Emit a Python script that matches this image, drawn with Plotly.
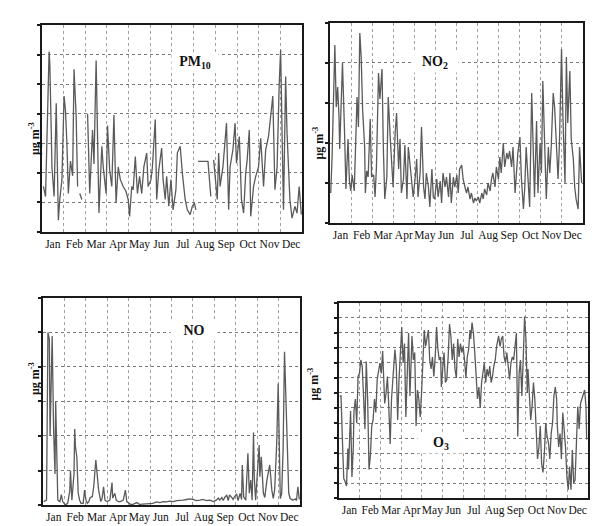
import plotly.graph_objects as go

months = ["Jan", "Feb", "Mar", "Apr", "May", "Jun", "Jul", "Aug", "Sep", "Oct", "Nov", "Dec"]

# PM10 (daily, approximate read-off; None = missing data)
pm10_days = [3, 6, 11, 12, 14, 15, 18, 21, 24, 26, 29, 32, 34, 36, 38, 41, 44, 46, 49, 51, 52, 54, 57, 60,
             65, 66, 68, 72, 74, 77, 79, 81, 85, 87, 91, 93, 96, 99, 102, 105, 108, 111, 115, 119, 122, 124,
             127, 129, 132, 135, 138, 141, 144, 148, 150, 154, 156, 160, 162, 165, 169, 171, 174, 176, 179,
             182, 185, 189, 191, 195, 198, 202, 205, 209, 212, 215, 217, 219, 220, 234, 238, 240,
             242, 245, 247, 249, 251, 255, 258, 260, 263, 265, 269, 272, 274, 278, 281, 284, 287, 289, 292,
             294, 298, 301, 305, 308, 312, 315, 319, 322, 325, 328, 331, 334, 336, 338, 340, 343, 345, 349,
             352, 356, 359, 362, 365]
pm10_vals = [15.4, 12, 61, 57, 34.5, 22, 12, 43.5, 4, 11, 17.7, 46, 41, 30, 13, 24, 19, 55, 39, 15.4, None, 13, 11, None,
             40, 33, 13, 34.5, 23, 58, 35.7, 6.4, 29, 22, 13, 36, 21, 15.4, 39.6, 9.8, 22, 17.7, 15.4, 13.7, 11, 5.3,
             15.4, 14.3, 25.5, 13, 18.8, 13, 22, 26.7, 15.4, 17.7, 22, 38, 11, 21, 28.4, 17.7, 11, 18.8, 8.7,
             17.7, 7.5, 14.3, 26.7, 29, 20, 11, 7.5, 5.9, 8.7, 9.8, 7.5, None, 23.9, 23.9, 12, None,
             24.4, 17.7, 11, 26.7, 15.4, 22, 31, 36.8, 7.5, 22, 27.8, 36.8, 23.3, 32.3, 11, 6.4, 20, 24.4, 34.5,
             5.3, 15.4, 18.8, 22, 31.7, 15.4, 27.8, 32.3, 40, 46, 14.3, 22, 50, 61.6, 33.4, 7.5, 52.6, 33.4, 11,
             4.7, 8.7, 6.4, 15.4, 5.9]

# NO2
no2_days = [2, 4, 8, 10, 12, 14, 15, 17, 19, 22, 24, 27, 29, 31, 33, 36, 38, 40, 42, 44, 46, 48, 51, 52,
            54, 56, 59, 61, 64, 66, 68, 71, 73, 76, 78, 80, 83, 85, 88, 90, 92, 95, 97, 100,
            102, 104, 107, 109, 112, 114, 116, 119, 121, 124, 126, 128, 131, 133, 136, 138, 140, 143, 145, 148,
            150, 152, 155, 157, 160, 162, 164, 167, 169, 172, 174, 176, 179, 181, 184, 186, 188, 191, 193, 196,
            198, 200, 203, 205, 208, 210, 212, 215, 217, 220, 222, 224, 227, 229, 232, 234, 236, 239, 241, 244,
            246, 248, 251, 253, 256, 258, 260, 263, 265, 268, 270, 272, 275, 277, 280, 282, 284, 287, 289, 292,
            294, 296, 299, 301, 304, 306, 308, 311, 313, 316, 318, 320, 323, 325, 328, 330, 332, 335, 337, 340,
            342, 344, 347, 349, 352, 354, 356, 359, 361, 364]
no2_vals = [15, 33, 89, 58, 68, 53, 37, 55, 80, 45, 17, 42, 21, 16, 24, 16, 45, 63, 48, 95, 83, 57, 38, 15,
            26, 23, 52, 23, 24, 13, 28, 75, 62, 77, 37, 12, 23, 63, 42, 32, 18, 45, 55, 27,
            42, 15, 22, 39, 12, 38, 30, 20, 13, 23, 32, 13, 25, 48, 18, 12, 25, 18, 8, 27,
            13, 12, 22, 13, 21, 10, 25, 18, 23, 13, 25, 10, 23, 18, 24, 15, 27, 29, 22, 17.5,
            15, 18, 12, 15, 10, 12.5, 11, 13, 10, 15, 12, 17, 14, 20, 16, 22, 25, 18, 28, 22,
            33, 25, 40, 28, 35, 32, 36, 28, 38, 15, 25, 35, 43, 23, 7, 18, 38, 23, 8, 65,
            33, 13, 51, 15, 40, 25, 71, 28, 12, 38, 25, 37, 65, 58, 32, 22, 40, 87, 53, 20,
            83, 50, 76, 42, 32, 18, 12, 7, 38, 20]

# NO
no_days = [2, 6, 8, 10, 11, 13, 14, 16, 18, 19, 21, 22, 25, 27, 29, 32, 34, 36, 39, 40,
           42, 45, 46, 47, 49, 51, 53, 55, 58, 60, 62, 64, 66, 68, 71, 73, 76, 78, 80, 83,
           85, 87, 89, 92, 96, 99, 100, 103, 105, 108, 111, 115, 118, 120, 125, 129, 134, 138, 143, 148,
           153, 157, 162, 167, 172, 176, 181, 186, 191, 195, 200, 205, 210, 214, 219, 224, 228, 233, 238, 243,
           247, 250, 252, 255, 257, 259, 262, 264, 266, 269, 271, 273, 276, 278, 281, 283, 284, 286, 289, 292,
           294, 296, 298, 300, 301, 303, 306, 308, 309, 311, 314, 316, 319, 321, 323, 326, 328, 330, 333, 335,
           337, 338, 340, 342, 344, 346, 348, 350, 352, 354, 356, 359, 361, 363, 365]
no_vals = [1, 1.4, 50, 48, 20, 48, 49, 22, 9, 30, 13, 1.4, 1, 3, 1, 0.2, 0.2, 0.5, 4, 10,
           1.4, 9, 22, 17, 14, 3.4, 1.4, 0.5, 0.5, 4.3, 1.4, 0.5, 1, 2.2, 2.4, 5.3, 13, 8, 4.3, 1,
           2, 5.3, 1.4, 1, 1.4, 6.5, 2, 3.4, 1.4, 1, 1, 1.4, 4.3, 1, 0.2, 0.2, 0.7, 0.2, 0.3, 0.2,
           0.4, 0.5, 0.9, 0.7, 1, 0.9, 1.1, 1, 1.3, 1.3, 1.4, 1.6, 1.8, 1.6, 1.3, 1.4, 1.6, 1.3, 1.4, 1,
           1.4, 2, 1.4, 2.2, 1.3, 2.2, 2.8, 1.3, 2.9, 2.2, 1.6, 2.4, 3.2, 1.3, 3.4, 1.6, 11.6, 2.4, 1.4, 15,
           3.4, 7.2, 1.4, 21, 8.2, 1.4, 12.5, 17.4, 8.2, 14, 3.4, 2.2, 7.2, 10, 11.6, 4.3, 1.9, 4.3, 18.3, 35.2,
           17, 1.9, 3.4, 16, 44.4, 30.4, 13, 3.4, 1.9, 1.6, 1.4, 1.8, 1.3, 5.3, 1.6]

# O3
o3_days = [2, 4, 6, 8, 10, 12, 14, 15, 18, 20, 22, 23, 25, 27, 29, 31, 33, 35, 37, 39,
           41, 43, 45, 47, 49, 51, 53, 55, 57, 59, 61, 63, 65, 66, 68, 70, 72, 74, 76, 78,
           80, 83, 85, 87, 89, 91, 93, 95, 97, 99, 101, 103, 105, 107, 108, 110, 112, 114, 116, 118,
           120, 122, 124, 126, 128, 130, 132, 134, 136, 138, 140, 142, 144, 146, 148, 150, 151, 153, 155, 157,
           159, 161, 163, 165, 167, 169, 171, 173, 175, 177, 179, 181, 183, 185, 187, 189, 191, 193, 194, 196,
           198, 200, 202, 204, 206, 208, 210, 212, 214, 216, 218, 220, 222, 224, 226, 228, 230, 232, 234, 235,
           237, 239, 241, 243, 245, 247, 249, 251, 253, 255, 257, 259, 261, 263, 265, 267, 269, 271, 273, 275,
           277, 278, 280, 282, 284, 286, 288, 290, 292, 294, 296, 298, 300, 302, 304, 306, 308, 310, 312, 314,
           316, 318, 320, 321, 323, 325, 327, 329, 331, 333, 335, 337, 339, 341, 343, 345, 347, 349, 351, 353,
           355, 357, 359, 361, 363, 364]
o3_vals = [68, 68, 39, 13, 11, 8, 33, 19, 58, 14, 34, 58, 66, 50, 81, 83, 92, 88, 68, 46,
           91, 66, 19, 28, 48, 52, 66, 57, 79, 86, 90, 83, 98, 86, 63, 70, 81, 61, 36, 66,
           77, 99, 88, 52, 79, 99, 114, 90, 103, 54, 86, 110, 68, 101, 108, 92, 97, 48, 72, 66,
           54, 70, 92, 112, 101, 106, 112, 92, 86, 94, 81, 94, 114, 99, 92, 94, 74, 86, 97, 77,
           79, 94, 116, 108, 92, 103, 86, 80, 106, 94, 103, 97, 101, 92, 80, 94, 99, 112, 106, 117,
           110, 97, 83, 66, 74, 60, 77, 83, 90, 77, 86, 81, 88, 77, 81, 88, 92, 101, 106, 108,
           101, 106, 108, 94, 90, 97, 88, 79, 90, 94, 92, 101, 110, 41, 83, 92, 68, 92, 121, 106,
           70, 86, 70, 52, 61, 77, 66, 48, 26, 34, 48, 23, 17, 30, 50, 41, 37, 26, 43, 50,
           68, 74, 66, 48, 34, 43, 26, 57, 48, 34, 14.4, 5.6, 21, 5.6, 32, 10, 12, 41, 61, 46,
           63, 66, 70, 72, 61, 39]

panels = [
    dict(days=pm10_days, vals=pm10_vals, ymax=70, dtick=10, title="PM<sub>10</sub>",
         xd=[0.0687, 0.4943], yd=[0.5589, 0.9525], tx=171, ty=52, ytx=25, yty=120),
    dict(days=no2_days, vals=no2_vals, ymax=100, dtick=20, title="NO<sub>2</sub>",
         xd=[0.5401, 0.9542], yd=[0.576, 0.9563], tx=459, ty=52, ytx=318, yty=125),
    dict(days=no_days, vals=no_vals, ymax=60, dtick=10, title="NO",
         xd=[0.0704, 0.491], yd=[0.0399, 0.4335], tx=170, ty=330, ytx=25, yty=397),
    dict(days=o3_days, vals=o3_vals, ymax=130, dtick=10, title="O<sub>3</sub>",
         xd=[0.5548, 0.9624], yd=[0.0532, 0.424], tx=465, ty=454, ytx=313, yty=403),
]

W, H = 611, 526
serif = "Liberation Serif"
X0, X1 = 1, 366
step = (X1 - X0) / 12
month_bounds = [X0 + k * step for k in range(1, 12)]
month_centres = [X0 + (k + 0.5) * step for k in range(12)]

fig = go.Figure()
annotations = []
for i, p in enumerate(panels):
    n = i + 1
    xa = "x" if n == 1 else f"x{n}"
    ya = "y" if n == 1 else f"y{n}"
    fig.add_trace(go.Scatter(x=p["days"], y=p["vals"], mode="lines", xaxis=xa, yaxis=ya,
                             line=dict(color="#5a5a5a", width=1.3), connectgaps=False,
                             showlegend=False, hoverinfo="skip"))
    xkey = "xaxis" if n == 1 else f"xaxis{n}"
    ykey = "yaxis" if n == 1 else f"yaxis{n}"
    fig.layout[xkey] = dict(
        domain=p["xd"], anchor=ya, range=[X0, X1],
        tickmode="array", tickvals=month_centres, ticktext=months, ticks="", tickangle=0,
        showgrid=False, zeroline=False,
        showline=True, mirror=True, linecolor="#1a1a1a", linewidth=1.5,
        tickfont=dict(family=serif, size=11.5, color="#111"),
        minor=dict(tickmode="array", tickvals=month_bounds, showgrid=True,
                   gridcolor="#a0a0a0", griddash="dot", gridwidth=1, ticks=""),
    )
    fig.layout[ykey] = dict(
        domain=p["yd"], anchor=xa, range=[0, p["ymax"]], dtick=p["dtick"], tick0=0,
        showticklabels=False, ticks="outside", ticklen=3, tickwidth=1.5, tickcolor="#1a1a1a",
        showgrid=True, gridcolor="#7a7a7a", griddash="dot", gridwidth=1, zeroline=False,
        showline=True, mirror=True, linecolor="#1a1a1a", linewidth=1.5,
    )
    annotations.append(dict(text="<b>" + p["title"] + "</b>", x=p["tx"] / W, y=1 - p["ty"] / H,
                            xref="paper", yref="paper", showarrow=False, bgcolor="white",
                            width=44, height=17, font=dict(family=serif, size=14, color="#111")))
    annotations.append(dict(text="<b>μg m<sup>-3</sup></b>", x=p["ytx"] / W, y=1 - p["yty"] / H,
                            xref="paper", yref="paper", showarrow=False, textangle=-90,
                            font=dict(family=serif, size=12, color="#111")))

fig.update_layout(width=W, height=H, margin=dict(l=0, r=0, t=0, b=0),
                  paper_bgcolor="white", plot_bgcolor="white", annotations=annotations)
fig.write_html("out.html")
